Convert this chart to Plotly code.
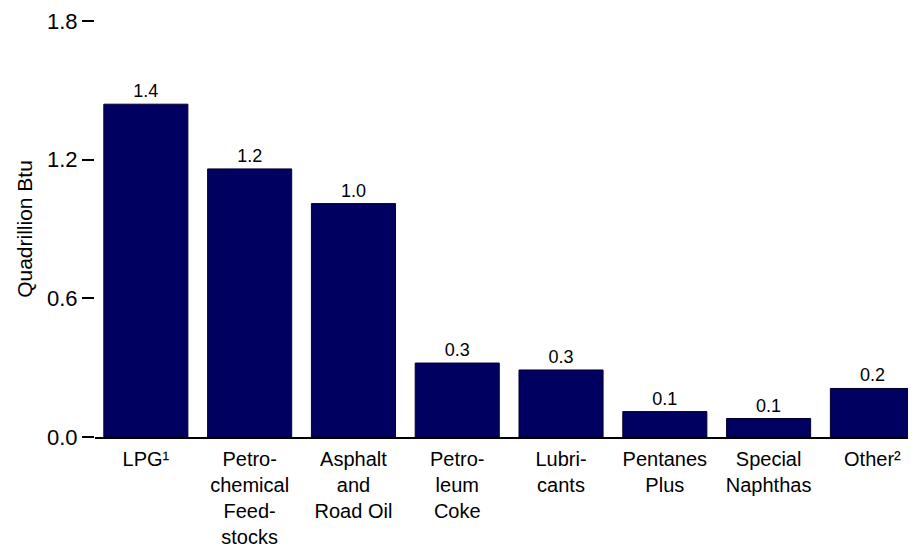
import plotly.graph_objects as go

categories = ["LPG¹", "Petro-<br>chemical<br>Feed-<br>stocks", "Asphalt<br>and<br>Road Oil",
              "Petro-<br>leum<br>Coke", "Lubri-<br>cants", "Pentanes<br>Plus",
              "Special<br>Naphthas", "Other²"]
values = [1.44, 1.16, 1.01, 0.32, 0.29, 0.11, 0.08, 0.21]
y_ticks = [0.0, 0.6, 1.2, 1.8]

fig = go.Figure(go.Bar(
    x=list(range(len(categories))),
    y=values,
    width=0.81,
    marker=dict(color="#000060", line=dict(color="#000030", width=1)),
    text=[f"{v:.1f}" for v in values],
    textposition="outside",
    textfont=dict(size=18, color="#000000"),
    cliponaxis=False,
))

fig.update_layout(
    width=908, height=545,
    margin=dict(l=87, r=0, t=13, b=116),
    plot_bgcolor="white", paper_bgcolor="white",
    font=dict(family="Liberation Sans, Arial, sans-serif", size=20, color="#000000"),
    showlegend=False,
)
fig.update_xaxes(
    range=[-0.49, 7.42],
    tickmode="array", tickvals=list(range(len(categories))), ticktext=categories,
    showline=True, linecolor="#000000", linewidth=2,
    showgrid=False, ticks="", zeroline=False,
    tickfont=dict(size=20),
    ticklabelstandoff=3,
    automargin=False,
)
fig.update_yaxes(
    range=[0, 1.8],
    tickmode="array", tickvals=y_ticks, ticktext=[f"{t:.1f}" for t in y_ticks],
    ticks="outside", ticklen=12, tickwidth=2, tickcolor="#000000",
    showline=False, showgrid=False, zeroline=False,
    tickfont=dict(size=22),
    title=dict(text="Quadrillion Btu", font=dict(size=21), standoff=8),
    automargin=False,
)
fig.write_html("out.html")
